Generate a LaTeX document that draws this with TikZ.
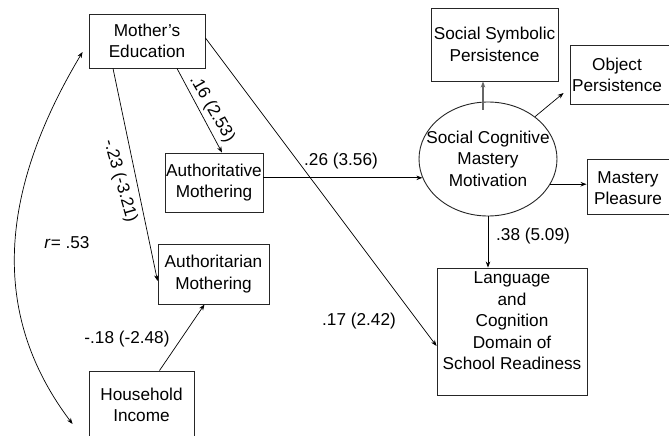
\documentclass[tikz,border=0pt]{standalone}
\usepackage{fontspec}
\setmainfont{Liberation Sans}
\usetikzlibrary{arrows.meta,calc,shapes.geometric}

\begin{document}
\begin{tikzpicture}[x=1pt,y=-1pt,
  box/.style={draw=black!85, line width=0.9pt, inner sep=0pt},
  txt/.style={font=\fontsize{17.2}{21.5}\selectfont, align=center, inner sep=0pt},
  lbl/.style={font=\fontsize{17.2}{20}\selectfont, inner sep=0pt},
  conn/.style={line width=0.7pt, -{Stealth[length=6pt,width=4.5pt]}},
]
\useasboundingbox (0,0) rectangle (669,436);
\clip (0,0) rectangle (669,436);

% exogenous and mediating variables
\node[box,txt,minimum width=116pt,minimum height=54pt] (med) at (147,41) {Mother’s\\Education};
\node[box,txt,minimum width=98pt,minimum height=59pt] (ative) at (214,182.5) {Authoritative\\Mothering};
\node[box,txt,minimum width=111pt,minimum height=60pt] (arian) at (213.5,274) {Authoritarian\\Mothering};
\node[box,txt,minimum width=105pt,minimum height=68pt] (hh) at (141.5,405) {Household\\Income};

% latent construct and its indicators
\node[draw=black!85, line width=0.9pt, ellipse, inner sep=0pt,
      minimum width=138pt, minimum height=114pt] (ell) at (488,159) {};
\node[txt] (elltxt) at (488,158.5) {Social Cognitive\\Mastery\\Motivation};
\node[box,txt,minimum width=127pt,minimum height=73pt] (ssp) at (494.5,44.5) {Social Symbolic\\Persistence};
\node[box,minimum width=110pt,minimum height=59pt] (obj) at (625,74.5) {};
\node[txt] (objtxt) at (617,75) {Object\\Persistence};
\node[box,minimum width=100pt,minimum height=55pt] (mp) at (637,186.5) {};
\node[txt] (mptxt) at (628,188) {Mastery\\Pleasure};

% outcome
\node[box,txt,minimum width=150pt,minimum height=127pt] (lang) at (512,331.5)
  {Language\\and\\Cognition\\Domain of\\School Readiness\\\mbox{}};

% paths
\draw[conn] ([xshift=30pt]med.south) -- ([xshift=8pt]ative.north);
\draw[conn] ([xshift=-34pt]med.south) -- ([yshift=-7pt]arian.west);
\draw[conn] ([yshift=3pt]med.east) -- ([yshift=-14.5pt]lang.west);
\draw[conn] (ative.east |- ell.196) -- (ell.196);
\draw[conn] ([xshift=18pt]hh.north) -- ([xshift=-9pt]arian.south);
\draw[conn, draw=black!60, line width=1.4pt] ([shift={(-5pt,-8pt)}]ell.north) -- ([xshift=-11.5pt]ssp.south);
\draw[conn] (ell.42) -- ([shift={(-6pt,-18.5pt)}]obj.west);
\draw[conn, line width=1.4pt] (ell.-22) -- (mp.west |- ell.-22);
\draw[conn] (ell.south) -- (ell.south |- lang.north);

% correlation between the exogenous variables
\draw[line width=0.7pt, {Stealth[length=6pt,width=4.5pt]}-{Stealth[length=6pt,width=4.5pt]}]
  ([shift={(-6pt,-11pt)}]med.west) .. controls (-6,200) and (-6,320) .. ([shift={(-16pt,-19pt)}]hh.west);

% coefficients
\node[lbl] (l26) at (341,161) {.26 (3.56)};
\node[lbl] (l17) at (359,321) {.17 (2.42)};
\node[lbl] (l18) at (127,339) {-.18 (-2.48)};
\node[lbl] (l38) at (533,236) {.38 (5.09)};
\node[lbl] (lr) at (67,243) {\textit{r}= .53};
\node[lbl, rotate=-60] (l16) at (212,109) {.16 (2.53)};
\node[lbl, rotate=-74] (l23) at (120,181) {-.23 (-3.21)};
\end{tikzpicture}
\end{document}
